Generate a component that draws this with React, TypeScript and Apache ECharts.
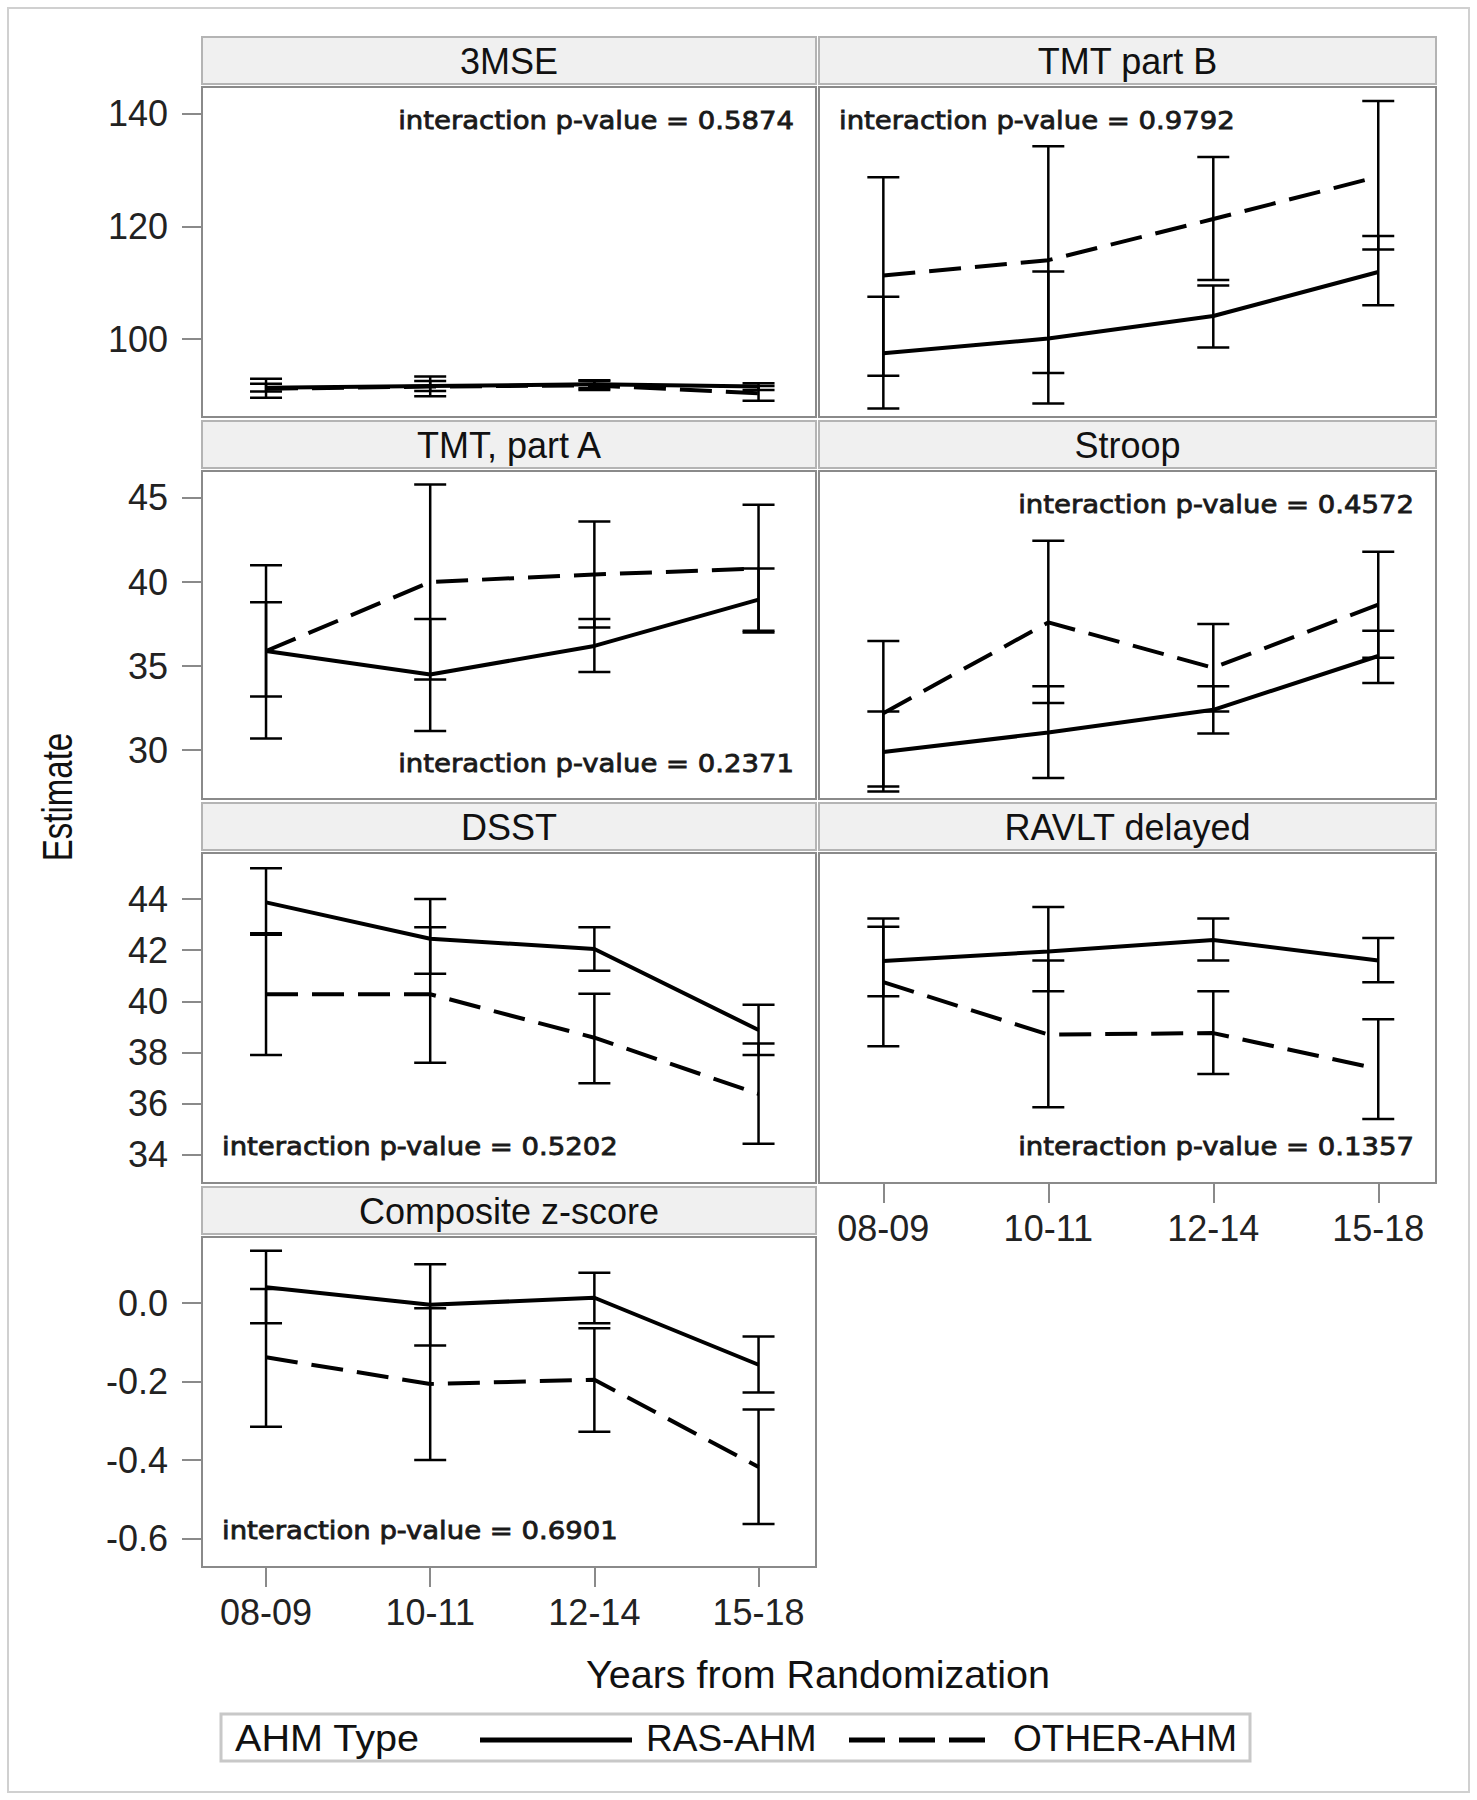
import React, { useEffect, useRef } from 'react';
import * as echarts from 'echarts';

// ---------- data ----------
const periods = ['08-09', '10-11', '12-14', '15-18'];
const periodIdx = [0, 1, 2, 3];

const panelTitles = ['3MSE', 'TMT part B', 'TMT, part A', 'Stroop', 'DSST', 'RAVLT delayed', 'Composite z-score'];
const pValues = ['0.5874', '0.9792', '0.2371', '0.4572', '0.5202', '0.1357', '0.6901'];

// 3MSE
const mseRas = [91.4, 91.7, 92.0, 91.6];
const mseRasCI = [[90.7, 92.1], [90.8, 92.6], [91.3, 92.7], [91.0, 92.2]];
const mseOth = [91.2, 91.6, 91.8, 90.4];
const mseOthCI = [[89.6, 93.0], [89.9, 93.4], [91.0, 92.6], [89.1, 91.7]];

// TMT part B
const tmtbRas = [97.5, 100.1, 104.1, 111.9];
const tmtbRasCI = [[87.7, 107.5], [88.6, 112.0], [98.5, 109.5], [106.0, 118.3]];
const tmtbOth = [111.3, 114.0, 121.3, 128.8];
const tmtbOthCI = [[93.5, 128.7], [94.0, 134.2], [110.5, 132.3], [115.9, 142.2]];

// TMT, part A
const tmtaRas = [35.9, 34.5, 36.2, 38.95];
const tmtaRasCI = [[33.2, 38.8], [31.15, 37.8], [34.65, 37.8], [37.1, 40.8]];
const tmtaOth = [35.9, 40.0, 40.45, 40.8];
const tmtaOthCI = [[30.7, 41.0], [34.2, 45.8], [37.3, 43.6], [37.0, 44.6]];

// Stroop
const stroopRas = [29.9, 31.05, 32.4, 35.6];
const stroopRasCI = [[27.55, 32.3], [28.35, 33.8], [31.0, 33.8], [34.0, 37.1]];
const stroopOth = [32.2, 37.6, 34.9, 38.65];
const stroopOthCI = [[27.85, 36.5], [32.8, 42.45], [32.3, 37.5], [35.5, 41.8]];

// DSST
const dsstRas = [43.87, 42.45, 42.05, 38.88];
const dsstRasCI = [[42.6, 45.2], [41.08, 44.0], [41.2, 42.9], [37.9, 39.87]];
const dsstOth = [40.28, 40.28, 38.58, 36.38];
const dsstOthCI = [[37.9, 42.66], [37.6, 42.9], [36.8, 40.3], [34.43, 38.35]];

// RAVLT delayed
const ravltRas = [41.58, 41.95, 42.4, 41.6];
const ravltRasCI = [[40.2, 42.92], [40.4, 43.69], [41.6, 43.24], [40.75, 42.48]];
const ravltOth = [40.75, 38.7, 38.76, 37.36];
const ravltOthCI = [[38.25, 43.24], [35.86, 41.6], [37.16, 40.4], [35.4, 39.3]];

// Composite z-score
const compRas = [0.041, -0.004, 0.014, -0.157];
const compRasCI = [[-0.051, 0.134], [-0.108, 0.0996], [-0.051, 0.078], [-0.228, -0.085]];
const compOth = [-0.138, -0.206, -0.195, -0.418];
const compOthCI = [[-0.315, 0.0365], [-0.4, -0.0128], [-0.328, -0.064], [-0.563, -0.271]];

// y-axis tick labels per row
const row1Ticks = [100, 120, 140];
const row2Ticks = [30, 35, 40, 45];
const row3Ticks = [34, 36, 38, 40, 42, 44];
const row4Ticks = [-0.6, -0.4, -0.2, 0.0];

const legendTitle = 'AHM Type';
const seriesNames = ['RAS-AHM', 'OTHER-AHM'];
const xTitle = 'Years from Randomization';
const yTitle = 'Estimate';

// ---------- layout ----------
const FONT = '"Liberation Sans", Arial, Helvetica, sans-serif';
const PFONT = '"DejaVu Sans", "Liberation Sans", sans-serif';

const colLeft = [202, 819];
const colWidth = [614, 617];
const rowTop = [87, 471, 853, 1237];
const rowHeight = [330, 328, 330, 330];
const rowRange: [number, number][] = [[86.2, 144.7], [27.1, 46.6], [32.9, 45.8], [-0.673, 0.169]];
const rowTicks = [row1Ticks, row2Ticks, row3Ticks, row4Ticks];

const panelData = [
  [mseRas, mseRasCI, mseOth, mseOthCI],
  [tmtbRas, tmtbRasCI, tmtbOth, tmtbOthCI],
  [tmtaRas, tmtaRasCI, tmtaOth, tmtaOthCI],
  [stroopRas, stroopRasCI, stroopOth, stroopOthCI],
  [dsstRas, dsstRasCI, dsstOth, dsstOthCI],
  [ravltRas, ravltRasCI, ravltOth, ravltOthCI],
  [compRas, compRasCI, compOth, compOthCI],
];
// p-value text placement: [align, offset from top of plot]
const pPlace: [string, number][] = [
  ['right', 33.5], ['left', 33.5], ['right', 292], ['right', 33], ['left', 293.5], ['right', 293.5], ['left', 293],
];

const DASH = [32, 14];
const TICK_COLOR = '#8a8a8a';

function errRender(params: any, api: any) {
  const x = api.value(0);
  const lo = api.coord([x, api.value(1)]);
  const hi = api.coord([x, api.value(2)]);
  const hw = 16;
  const st = { stroke: '#000', lineWidth: 2.5 };
  return {
    type: 'group',
    children: [
      { type: 'line', shape: { x1: lo[0], y1: lo[1], x2: hi[0], y2: hi[1] }, style: st },
      { type: 'line', shape: { x1: lo[0] - hw, y1: lo[1], x2: lo[0] + hw, y2: lo[1] }, style: st },
      { type: 'line', shape: { x1: hi[0] - hw, y1: hi[1], x2: hi[0] + hw, y2: hi[1] }, style: st },
    ],
  };
}

function buildOption() {
  const grid: any[] = [];
  const xAxis: any[] = [];
  const yAxis: any[] = [];
  const series: any[] = [];
  const graphic: any[] = [];

  // outer frame
  graphic.push({
    type: 'rect', shape: { x: 8, y: 8, width: 1461, height: 1784 },
    style: { fill: 'none', stroke: '#d0d0d0', lineWidth: 2 }, silent: true,
  });

  panelTitles.forEach((title, i) => {
    const row = Math.floor(i / 2);
    const col = i % 2;
    const left = colLeft[col];
    const width = colWidth[col];
    const top = rowTop[row];
    const height = rowHeight[row];
    const [ymin, ymax] = rowRange[row];
    const ticks = rowTicks[row];
    const showX = i === 5 || i === 6;
    const showY = col === 0;

    grid.push({ left, top, width, height, show: true, borderColor: '#8a8a8a', borderWidth: 2, backgroundColor: '#fff' });
    xAxis.push({
      gridIndex: i, type: 'value', min: -0.39, max: 3.35, position: 'bottom',
      splitLine: { show: false }, axisLine: { show: false, onZero: false },
      axisTick: { show: showX, length: 20, lineStyle: { color: TICK_COLOR, width: 2 }, customValues: periodIdx },
      axisLabel: {
        show: showX, customValues: periodIdx, formatter: (v: number) => periods[Math.round(v)],
        fontSize: 36, fontFamily: FONT, color: '#222', margin: 27,
      },
    });
    yAxis.push({
      gridIndex: i, type: 'value', min: ymin, max: ymax, position: 'left',
      splitLine: { show: false }, axisLine: { show: false, onZero: false },
      axisTick: { show: showY, length: 20, lineStyle: { color: TICK_COLOR, width: 2 }, customValues: ticks },
      axisLabel: {
        show: showY, customValues: ticks,
        formatter: (v: number) => (row === 3 ? v.toFixed(1) : String(Math.round(v))),
        fontSize: 36, fontFamily: FONT, color: '#222', margin: 34,
      },
    });

    const [ras, rasCI, oth, othCI] = panelData[i] as any;
    series.push({
      type: 'custom', name: seriesNames[0] + ' CI', xAxisIndex: i, yAxisIndex: i, silent: true,
      renderItem: errRender, encode: { x: 0, y: [1, 2] },
      data: (rasCI as number[][]).map((c, k) => [k, c[0], c[1]]), z: 2,
    });
    series.push({
      type: 'custom', name: seriesNames[1] + ' CI', xAxisIndex: i, yAxisIndex: i, silent: true,
      renderItem: errRender, encode: { x: 0, y: [1, 2] },
      data: (othCI as number[][]).map((c, k) => [k, c[0], c[1]]), z: 2,
    });
    series.push({
      type: 'line', name: seriesNames[0], xAxisIndex: i, yAxisIndex: i, silent: true,
      symbol: 'none', showSymbol: false, z: 3,
      lineStyle: { color: '#000', width: 4, type: 'solid' },
      data: (ras as number[]).map((v, k) => [k, v]),
    });
    series.push({
      type: 'line', name: seriesNames[1], xAxisIndex: i, yAxisIndex: i, silent: true,
      symbol: 'none', showSymbol: false, z: 3,
      lineStyle: { color: '#000', width: 4, type: DASH },
      data: (oth as number[]).map((v, k) => [k, v]),
    });

    // header strip
    const hTop = top - 50;
    graphic.push({
      type: 'rect', shape: { x: left, y: hTop, width, height: 47 },
      style: { fill: '#f0f0f0', stroke: '#b4b4b4', lineWidth: 2 }, silent: true,
    });
    graphic.push({
      type: 'text', x: left + width / 2, y: hTop + 24, silent: true,
      style: { text: title, font: `36px ${FONT}`, fill: '#111', textAlign: 'center', textVerticalAlign: 'middle' },
    });

    // p-value text
    const [al, off] = pPlace[i];
    const px = al === 'right' ? left + width - 22 : left + 20;
    graphic.push({
      type: 'text', x: px, y: top + off, scaleX: 1.1, silent: true, z: 10,
      style: {
        text: 'interaction p-value = ' + pValues[i], font: `25px ${PFONT}`, fill: '#1a1a1a',
        stroke: '#1a1a1a', lineWidth: 0.8,
        textAlign: al, textVerticalAlign: 'middle',
      },
    });
  });

  // axis titles
  graphic.push({
    type: 'text', x: 57, y: 797, rotation: Math.PI / 2, scaleY: 1.3, silent: true,
    style: { text: yTitle, font: `33px ${FONT}`, fill: '#111', textAlign: 'center', textVerticalAlign: 'middle' },
  });
  graphic.push({
    type: 'text', x: 818, y: 1674, silent: true,
    style: { text: xTitle, font: `39.5px ${FONT}`, fill: '#111', textAlign: 'center', textVerticalAlign: 'middle' },
  });

  // legend
  const ly = 1738;
  graphic.push({
    type: 'rect', shape: { x: 221, y: 1714, width: 1029, height: 47 },
    style: { fill: '#fff', stroke: '#c8c8c8', lineWidth: 3 }, silent: true,
  });
  graphic.push({
    type: 'text', x: 235, y: ly, scaleX: 1.07, silent: true,
    style: { text: legendTitle, font: `37px ${FONT}`, fill: '#111', textAlign: 'left', textVerticalAlign: 'middle' },
  });
  graphic.push({
    type: 'line', shape: { x1: 480, y1: ly + 2, x2: 632, y2: ly + 2 }, silent: true,
    style: { stroke: '#000', lineWidth: 5 },
  });
  graphic.push({
    type: 'text', x: 646, y: ly, silent: true,
    style: { text: seriesNames[0], font: `37px ${FONT}`, fill: '#111', textAlign: 'left', textVerticalAlign: 'middle' },
  });
  graphic.push({
    type: 'line', shape: { x1: 849, y1: ly + 2, x2: 985, y2: ly + 2 }, silent: true,
    style: { stroke: '#000', lineWidth: 5, lineDash: [36, 14] },
  });
  graphic.push({
    type: 'text', x: 1013, y: ly, silent: true,
    style: { text: seriesNames[1], font: `37px ${FONT}`, fill: '#111', textAlign: 'left', textVerticalAlign: 'middle' },
  });

  return {
    animation: false,
    backgroundColor: '#fff',
    grid, xAxis, yAxis, series, graphic,
  };
}

export default function App() {
  const ref = useRef<HTMLDivElement>(null);
  useEffect(() => {
    if (!ref.current) return;
    const chart = echarts.init(ref.current, null, { renderer: 'svg' });
    chart.setOption(buildOption() as any);
    return () => chart.dispose();
  }, []);
  return (
    <div
      ref={ref}
      style={{ position: 'absolute', left: 0, top: 0, width: 1477, height: 1800, background: '#fff' }}
    />
  );
}
